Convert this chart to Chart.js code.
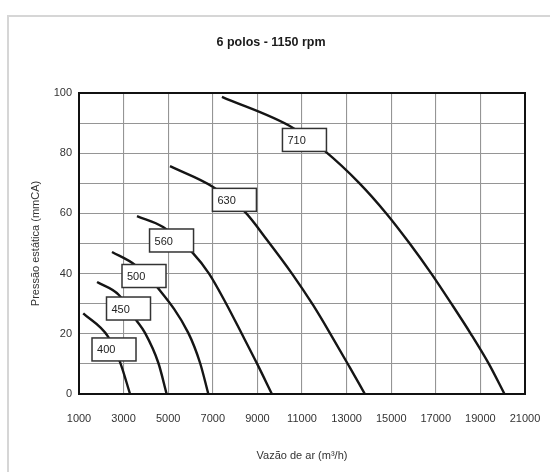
<!DOCTYPE html>
<html>
<head>
<meta charset="utf-8">
<script src="https://cdn.jsdelivr.net/npm/chart.js@4"></script>
<style>
  html, body { margin: 0; padding: 0; background: #fff; }
  .wrap { position: relative; width: 550px; height: 472px; }
  .frame { position: absolute; left: 7px; top: 15px; right: -10px; bottom: -10px;
           border-left: 2px solid #d6d6d6; border-top: 2px solid #d6d6d6; }
  canvas { position: absolute; left: 0; top: 0; }
</style>
</head>
<body>
<div class="wrap">
  <div class="frame"></div>
  <canvas id="myChart" width="550" height="472"></canvas>
</div>
<script>
// curve points (vazão m³/h, pressão mmCA)
const sizes = ["400", "450", "500", "560", "630", "710"];

const flow400 = [1190, 2310, 2840, 3290];
const press400 = [26.8, 19.0, 10.6, 0];

const flow450 = [1810, 2790, 3560, 3960, 4560, 4930];
const press450 = [37.2, 32.9, 24.6, 20.3, 10.3, 0];

const flow500 = [2480, 3510, 4540, 5900, 6430, 6800];
const press500 = [47.2, 42.9, 35.2, 20.3, 10.3, 0];

const flow560 = [3600, 4770, 6110, 6830, 7600, 8300, 8990, 9650];
const press560 = [59.1, 55.5, 46.8, 40, 30, 20, 10, 0];

const flow630 = [5080, 7010, 8440, 9450, 10550, 11500, 12350, 13130, 13820];
const press630 = [75.7, 68.8, 60.5, 51, 40, 29.5, 19, 9, 0];

const flow710 = [7410, 10600, 12030, 13580, 14780, 15830, 16800, 17700, 18570, 19380, 20080];
const press710 = [98.7, 88.4, 80.7, 70, 60, 50, 40, 30, 20, 10, 0];

// where each size tag sits (data units)
const tagFlow = [2570, 3220, 3915, 5150, 7970, 11110];
const tagPress = [14.8, 28.4, 39.2, 51.0, 64.5, 84.4];

const xTicks = [1000, 3000, 5000, 7000, 9000, 11000, 13000, 15000, 17000, 19000, 21000];

const curves = [
  [flow400, press400],
  [flow450, press450],
  [flow500, press500],
  [flow560, press560],
  [flow630, press630],
  [flow710, press710],
];

const font = "'Liberation Sans', Arial, sans-serif";

const datasets = curves.map(([fx, py], i) => ({
  label: sizes[i],
  data: fx.map((v, j) => ({ x: v, y: py[j] })),
  showLine: true,
  borderColor: "#151515",
  borderWidth: 2.4,
  pointRadius: 0,
  cubicInterpolationMode: "monotone",
}));

const decor = {
  id: "decor",
  afterDatasetsDraw(chart) {
    const { ctx, chartArea, scales } = chart;
    ctx.save();
    // size tags
    tagFlow.forEach((f, i) => {
      const cx = scales.x.getPixelForValue(f);
      const cy = scales.y.getPixelForValue(tagPress[i]);
      const w = 44, h = 23;
      ctx.fillStyle = "#fff";
      ctx.fillRect(cx - w / 2, cy - h / 2, w, h);
      ctx.strokeStyle = "#333";
      ctx.lineWidth = 1.5;
      ctx.strokeRect(cx - w / 2, cy - h / 2, w, h);
      ctx.fillStyle = "#222";
      ctx.font = "11px " + font;
      ctx.textAlign = "left";
      ctx.textBaseline = "middle";
      ctx.fillText(sizes[i], cx - w / 2 + 5, cy + 1);
    });
    // plot border
    ctx.strokeStyle = "#111";
    ctx.lineWidth = 2;
    ctx.strokeRect(chartArea.left, chartArea.top,
      chartArea.right - chartArea.left, chartArea.bottom - chartArea.top);
    // title
    ctx.fillStyle = "#1a1a1a";
    ctx.font = "bold 12.5px " + font;
    ctx.textAlign = "center";
    ctx.textBaseline = "middle";
    ctx.fillText("6 polos - 1150 rpm", 271, 43);
    ctx.restore();
  },
};

new Chart(document.getElementById("myChart"), {
  type: "scatter",
  data: { datasets },
  plugins: [decor],
  options: {
    responsive: false,
    animation: false,
    layout: { padding: { top: 93, right: 25, left: 0, bottom: 0 } },
    plugins: { legend: { display: false }, tooltip: { enabled: false } },
    scales: {
      x: {
        type: "linear",
        min: 1000,
        max: 21000,
        afterFit: (s) => { s.height = 78; s.paddingLeft = 0; s.paddingRight = 0; },
        afterBuildTicks: (s) => { s.ticks = xTicks.map((v) => ({ value: v })); },
        ticks: {
          color: "#333",
          font: { family: font, size: 11 },
          padding: 18,
          maxRotation: 0,
          autoSkip: false,
          callback: (v) => String(v),
        },
        grid: { color: "#959595", lineWidth: 1.1, drawTicks: false },
        border: { display: false },
        title: {
          display: true,
          text: "Vazão de ar (m³/h)",
          color: "#333",
          font: { family: font, size: 11 },
          padding: { bottom: 9 },
        },
      },
      y: {
        min: 0,
        max: 100,
        afterFit: (s) => { s.width = 79; s.paddingTop = 0; s.paddingBottom = 0; },
        ticks: {
          stepSize: 10,
          color: "#333",
          font: { family: font, size: 11 },
          padding: 7,
          callback: (v) => (v % 20 === 0 ? String(v) : ""),
        },
        grid: { color: "#959595", lineWidth: 1.1, drawTicks: false },
        border: { display: false },
        title: {
          display: true,
          text: "Pressão estática (mmCA)",
          color: "#333",
          font: { family: font, size: 11 },
          padding: { top: 29 },
        },
      },
    },
  },
});
</script>
</body>
</html>
